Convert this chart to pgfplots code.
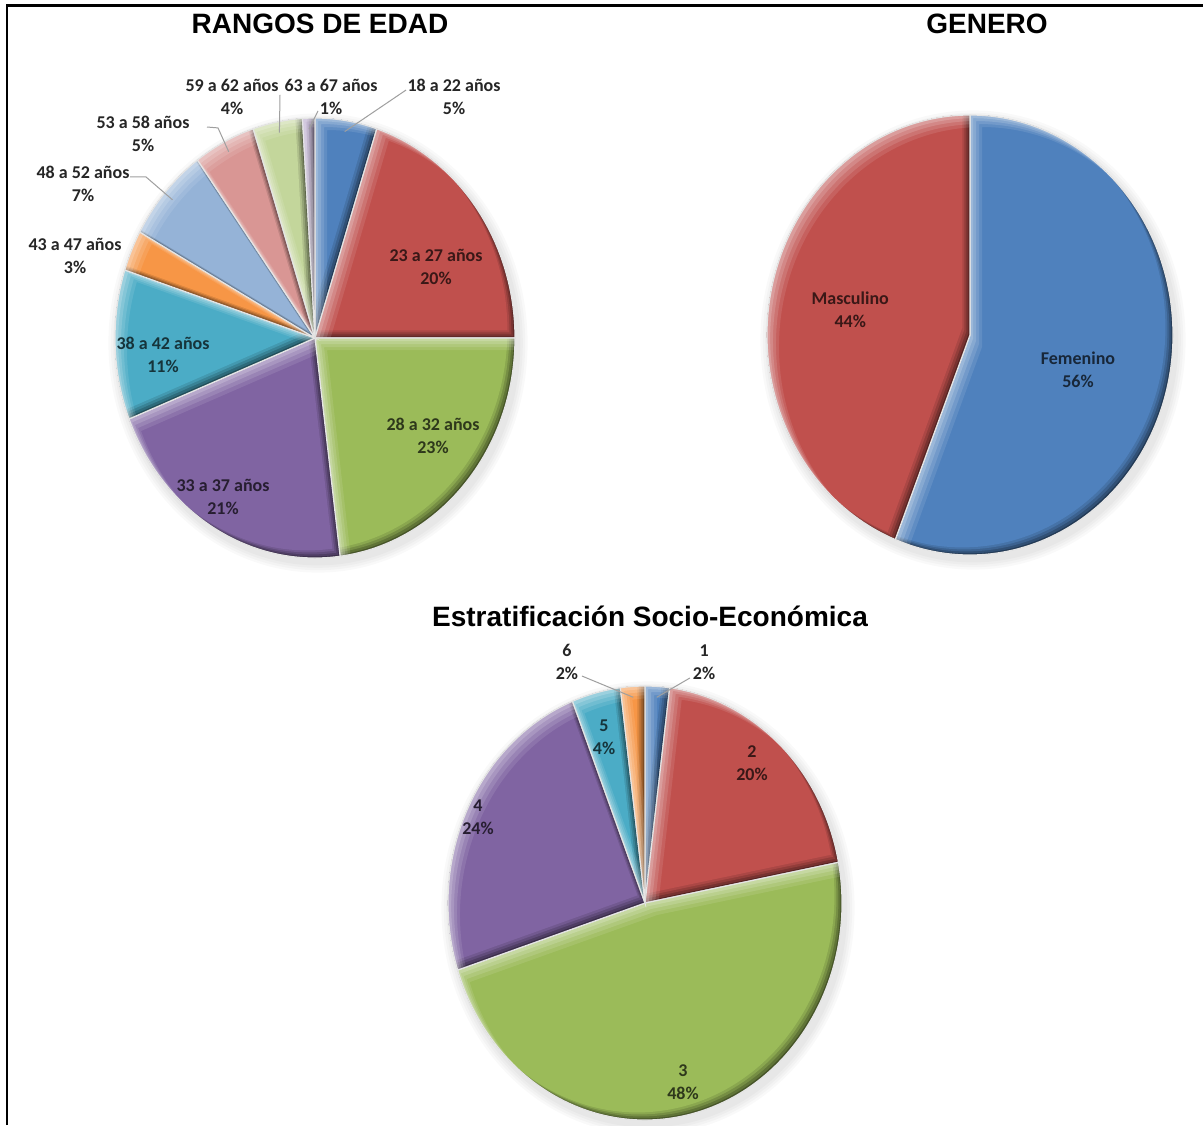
\documentclass[border=0pt]{standalone}
\usepackage{pgfplots}
\pgfplotsset{compat=1.18}
\usepackage{pgfplotstable}
\usepackage{fontspec}
\setmainfont{Carlito}
\newfontfamily\titlefont{Liberation Sans}

% Office palette
\definecolor{c1}{HTML}{4F81BD}
\definecolor{c2}{HTML}{C0504D}
\definecolor{c3}{HTML}{9BBB59}
\definecolor{c4}{HTML}{8064A2}
\definecolor{c5}{HTML}{4BACC6}
\definecolor{c6}{HTML}{F79646}
\definecolor{c7}{HTML}{95B3D7}
\definecolor{c8}{HTML}{D99694}
\definecolor{c9}{HTML}{C3D69B}
\definecolor{c10}{HTML}{B2A1C7}

% value in percent; lx,ly label position; sx,sy -> kx,ky -> rim is the leader line
\pgfplotstableread[col sep=comma]{
label,value,color,inside,lx,ly,lead,sx,sy,kx,ky
18 a 22 años,5,c1,0,0.695,1.095,1,0.455,1.127,0.455,1.127
23 a 27 años,20,c2,1,0.605,0.323,0,0,0,0,0
28 a 32 años,23,c3,1,0.59,-0.445,0,0,0,0,0
33 a 37 años,21,c4,1,-0.46,-0.723,0,0,0,0,0
38 a 42 años,11,c5,1,-0.76,-0.077,0,0,0,0,0
43 a 47 años,3,c6,0,-1.2,0.373,0,0,0,0,0
48 a 52 años,7,c7,0,-1.16,0.70,1,-0.925,0.732,-0.845,0.732
53 a 58 años,5,c8,0,-0.86,0.927,1,-0.54,0.959,-0.485,0.955
59 a 62 años,4,c9,0,-0.415,1.095,1,-0.175,1.105,-0.175,1.105
63 a 67 años,1,c10,0,0.08,1.095,1,0.015,1.032,0.015,1.032
}\edadtbl

\pgfplotstableread[col sep=comma]{
label,value,color,inside,lx,ly,lead,sx,sy,kx,ky
Femenino,56,c1,1,0.532,-0.159,0,0,0,0,0
Masculino,44,c2,1,-0.59,0.114,0,0,0,0,0
}\generotbl

\pgfplotstableread[col sep=comma]{
label,value,color,inside,lx,ly,lead,sx,sy,kx,ky
1,2,c1,0,0.30,1.11,1,0.228,1.037,0.228,1.037
2,20,c2,1,0.543,0.645,0,0,0,0,0
3,48,c3,1,0.193,-0.825,0,0,0,0,0
4,24,c4,1,-0.848,0.396,0,0,0,0,0
5,4,c5,1,-0.208,0.765,0,0,0,0,0
6,2,c6,0,-0.396,1.11,1,-0.32,1.046,-0.32,1.046
}\estratotbl

% one wedge, optionally shifted by (#3,#4)
\newcommand\slice[4]{([shift={(#3,#4)}]axis cs:0,0) -- ([shift={(#3,#4)}]axis cs:\csA,\snA) arc[start angle=#1,end angle=#2,x radius=\pieRX,y radius=\pieRY] -- cycle}

\newcommand\lblfont{\fontsize{9}{11.5}\selectfont\bfseries}

% pie from a table: #1 table, #2 x radius, #3 y radius
\newcommand\drawpie[3]{%
  \def\pieRX{#2}\def\pieRY{#3}%
  \pgfplotstablegetrowsof{#1}\pgfmathtruncatemacro\nrows{\pgfplotsretval-1}%
  % soft shadow
  \foreach \k in {1,2,3,4}{%
    \pgfmathsetlengthmacro\shx{#2+\k*1.2pt}\pgfmathsetlengthmacro\shy{#3+\k*1.2pt}%
    \fill[black,opacity=.025] ([shift={(1.5pt,-2.5pt)}]axis cs:0,0) ellipse[x radius=\shx,y radius=\shy];
  }%
  \gdef\cum{0}%
  \foreach \i in {0,...,\nrows}{%
    \pgfplotstablegetelem{\i}{value}\of#1\edef\pval{\pgfplotsretval}%
    \pgfplotstablegetelem{\i}{color}\of#1\edef\pcol{\pgfplotsretval}%
    \pgfmathsetmacro\aA{90-3.6*\cum}%
    \pgfmathsetmacro\aB{90-3.6*(\cum+\pval)}%
    \pgfmathsetmacro\csA{cos(\aA)}\pgfmathsetmacro\snA{sin(\aA)}%
    \colorlet{base}{\pcol}%
    \begin{scope}
      \clip \slice{\aA}{\aB}{0pt}{0pt};
      % darker rim on the lower right
      \fill[base!45!black] \slice{\aA}{\aB}{0pt}{0pt};
      \fill[base!62!black] \slice{\aA}{\aB}{-0.8pt}{0.8pt};
      \fill[base!76!black] \slice{\aA}{\aB}{-1.8pt}{1.8pt};
      \fill[base!89!black] \slice{\aA}{\aB}{-2.8pt}{2.8pt};
      \fill[base] \slice{\aA}{\aB}{-3.8pt}{3.8pt};
      % lighter rim on the upper left
      \foreach \d/\o in {6pt/.1,4.5pt/.12,3pt/.15,1.6pt/.18}{%
        \fill[white,opacity=\o,even odd rule] (axis cs:-2,-2) rectangle (axis cs:2,2) \slice{\aA}{\aB}{\d}{-\d};
      }
    \end{scope}
    \draw[white!80!gray,line width=.6pt] \slice{\aA}{\aB}{0pt}{0pt};
    \pgfmathsetmacro\newcum{\cum+\pval}\xdef\cum{\newcum}%
  }%
  \gdef\cum{0}%
  \foreach \i in {0,...,\nrows}{%
    \pgfplotstablegetelem{\i}{value}\of#1\edef\pval{\pgfplotsretval}%
    \pgfplotstablegetelem{\i}{color}\of#1\edef\pcol{\pgfplotsretval}%
    \pgfplotstablegetelem{\i}{label}\of#1\let\plab\pgfplotsretval
    \pgfplotstablegetelem{\i}{inside}\of#1\edef\pin{\pgfplotsretval}%
    \pgfplotstablegetelem{\i}{lx}\of#1\edef\plx{\pgfplotsretval}%
    \pgfplotstablegetelem{\i}{ly}\of#1\edef\ply{\pgfplotsretval}%
    \pgfplotstablegetelem{\i}{lead}\of#1\edef\plead{\pgfplotsretval}%
    \pgfplotstablegetelem{\i}{sx}\of#1\edef\psx{\pgfplotsretval}%
    \pgfplotstablegetelem{\i}{sy}\of#1\edef\psy{\pgfplotsretval}%
    \pgfplotstablegetelem{\i}{kx}\of#1\edef\pkx{\pgfplotsretval}%
    \pgfplotstablegetelem{\i}{ky}\of#1\edef\pky{\pgfplotsretval}%
    \pgfmathsetmacro\aM{90-3.6*(\cum+\pval/2)}%
    \pgfmathsetmacro\rimx{0.95*cos(\aM)}\pgfmathsetmacro\rimy{0.95*sin(\aM)}%
    \colorlet{base}{\pcol}%
    \ifnum\pin=1 \colorlet{lbl}{base!30!black}\else\colorlet{lbl}{black!85}\fi
    \ifnum\plead=1
      \draw[gray!75,line width=.5pt] (axis cs:\psx,\psy) -- (axis cs:\pkx,\pky) -- (axis cs:\rimx,\rimy);
    \fi
    \node[align=center,text=lbl,font=\lblfont,inner sep=1pt] at (axis cs:\plx,\ply) {\plab\\\pval\%};
    \pgfmathsetmacro\newcum{\cum+\pval}\xdef\cum{\newcum}%
  }%
}

\pgfplotsset{piestyle/.style={hide axis,clip=false,xmin=-1,xmax=1,ymin=-1,ymax=1,anchor=center}}

\begin{document}
\begin{tikzpicture}
\useasboundingbox (0,0) rectangle (601.5pt,-562.5pt);
\fill[white] (0,0) rectangle (601.5pt,-562.5pt);
\draw[black,line width=1.2pt] (3.5pt,-562.5pt) -- (3.5pt,-2.7pt) -- (601.5pt,-2.7pt);

\node[font=\titlefont\bfseries\fontsize{14}{16}\selectfont] at (160pt,-12pt) {RANGOS DE EDAD};
\node[font=\titlefont\bfseries\fontsize{14}{16}\selectfont] at (493.5pt,-12pt) {GENERO};
\node[font=\titlefont\bfseries\fontsize{14}{16}\selectfont] at (325pt,-308pt) {Estratificación Socio-Económica};

\begin{axis}[piestyle,x=100pt,y=110pt,at={(157.5pt,-169pt)}]
  \pgfplotsextra{\drawpie{\edadtbl}{100pt}{110pt}}
\end{axis}

\begin{axis}[piestyle,x=101.5pt,y=110pt,at={(485pt,-167.5pt)}]
  \pgfplotsextra{\drawpie{\generotbl}{101.5pt}{110pt}}
\end{axis}

\begin{axis}[piestyle,x=98.5pt,y=108.5pt,at={(322.5pt,-451.5pt)}]
  \pgfplotsextra{\drawpie{\estratotbl}{98.5pt}{108.5pt}}
\end{axis}
\end{tikzpicture}
\end{document}
